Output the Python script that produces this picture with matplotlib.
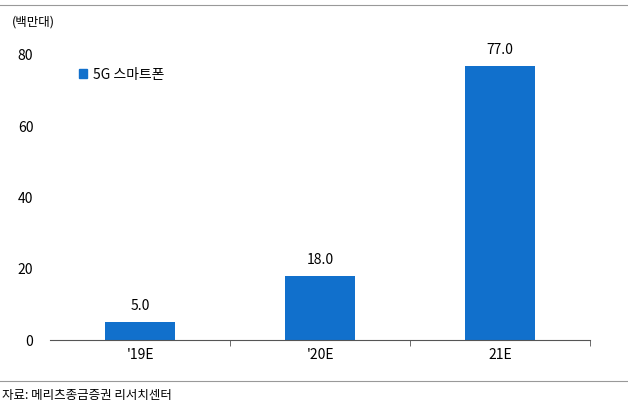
import matplotlib
matplotlib.use("Agg")
import matplotlib.pyplot as plt
from matplotlib.patches import Patch

plt.rcParams['font.family'] = ['Noto Sans CJK KR', 'DejaVu Sans']

categories = ["'19E", "'20E", "21E"]
values = [5.0, 18.0, 77.0]
yticks = [0, 20, 40, 60, 80]

fig = plt.figure(figsize=(6.28, 4.12), dpi=100)
ax = fig.add_axes([50 / 628, 1 - 340 / 412, 540 / 628, 285 / 412])

bar_color = "#1170CC"
x = range(len(categories))
ax.bar(x, values, width=0.39, color=bar_color)
for i, v in zip(x, values):
    ax.text(i, v + 2.5, f"{v:.1f}", ha="center", va="bottom", fontsize=10)

ax.set_xlim(-0.5, 2.5)
ax.set_ylim(0, 80)
ax.set_yticks(yticks)
ax.set_xticks(list(x))
ax.set_xticklabels(categories)
ax.set_xticks([0.5, 1.5, 2.5], minor=True)
ax.tick_params(axis="x", which="major", length=0, labelsize=10, pad=6)
ax.tick_params(axis="x", which="minor", length=4, color="#555555")
ax.tick_params(axis="y", length=0, labelsize=10, pad=12)
for s in ["top", "right", "left"]:
    ax.spines[s].set_visible(False)
ax.spines["bottom"].set_color("#555555")

ax.legend(handles=[Patch(color=bar_color, label="5G 스마트폰")],
          loc="upper left", bbox_to_anchor=(0.03, 1.0), frameon=False,
          fontsize=10, handlelength=0.6, handleheight=0.6, handletextpad=0.4)

fig.text(12 / 628, 1 - 22 / 412, "(백만대)", fontsize=9, va="center")
fig.text(2 / 628, 1 - 396 / 412, "자료: 메리츠종금증권 리서치센터", fontsize=9, va="center")
fig.add_artist(plt.Line2D([0, 1], [1 - 5 / 412] * 2, color="#999999", lw=0.8))
fig.add_artist(plt.Line2D([0, 1], [1 - 381 / 412] * 2, color="#999999", lw=0.8))

fig.savefig("out.png", dpi=100)
